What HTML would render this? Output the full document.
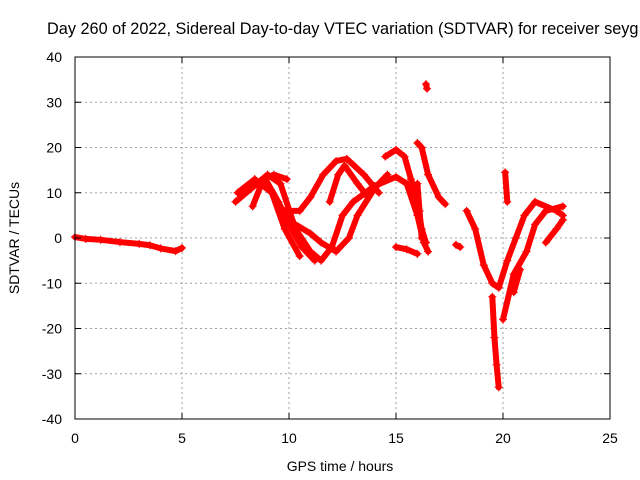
<!DOCTYPE html>
<html><head><meta charset="utf-8"><style>
body{margin:0;background:#fff;}
svg{display:block;font-family:"Liberation Sans",sans-serif;}
</style></head><body>
<svg id="chart" width="640" height="480">
<g id="grid"></g>
<g id="marks"></g>
<rect x="75" y="57" width="535" height="362" fill="none" stroke="#000" stroke-width="1"/>
<g id="ticks"></g>
<text x="47" y="34" font-size="16.3" text-anchor="start">Day 260 of 2022, Sidereal Day-to-day VTEC variation (SDTVAR) for receiver seyg</text>
<text x="340" y="471" font-size="14" text-anchor="middle">GPS time / hours</text>
<text x="0" y="0" font-size="14" text-anchor="middle" transform="translate(19,238) rotate(-90)">SDTVAR / TECUs</text>
</svg>
<script>
const xTicks=[0,5,10,15,20,25];
const yTicks=[-40,-30,-20,-10,0,10,20,30,40];
const tracks=[
[[0,0.2],[0.5,-0.2],[1.2,-0.4],[2.1,-0.9],[3,-1.3],[3.5,-1.6],[4,-2.3],[4.7,-2.9],[5.0,-2.2]],
[[7.5,8],[8.5,12],[9.0,14],[9.6,12],[10.3,2],[11.0,-3],[11.5,-5],[12,-2],[12.5,5],[13,8],[14,11.5],[15,13.5],[15.5,12],[16,5],[16.3,-1],[16.5,-3]],
[[7.6,10],[8.4,13],[9.2,10],[9.8,2],[10.5,-4]],
[[8.3,7],[8.8,13],[9.3,14],[9.9,13]],
[[8.9,13],[9.5,8],[10.0,3],[10.6,-2],[11.2,-5]],
[[9.8,6],[10.5,6],[11,9],[11.6,14],[12.2,17],[12.7,17.5],[13.5,14],[14.2,10]],
[[10.3,3],[11.0,1],[11.5,-1],[12.2,-3],[12.8,0],[13.2,5],[14,11],[14.6,14]],
[[11.9,8],[12.3,14],[12.6,16],[13.2,12],[13.7,9]],
[[14.5,18],[15,19.5],[15.4,18],[15.7,13],[16,8],[16.2,2],[16.4,-1]],
[[15.0,-2],[15.5,-2.5],[16,-3.5]],
[[16,21],[16.2,20],[16.5,14],[17,9],[17.3,7.5]],
[[16.0,12],[16.1,6],[16.2,0]],
[[16.4,34],[16.45,33]],
[[17.8,-1.5],[18,-2]],
[[18.3,6],[18.7,2],[19.1,-6],[19.5,-10],[19.8,-11],[20.2,-5],[20.6,0],[21,5],[21.5,8],[22.5,6],[22.8,5]],
[[19.5,-13],[19.6,-22],[19.7,-28],[19.8,-33]],
[[20.0,-18],[20.5,-8],[21.1,-3],[21.5,3],[22,6],[22.8,7]],
[[20.1,14.5],[20.2,8]],
[[20.5,-12],[20.8,-7]],
[[22,-1],[22.5,2],[22.8,4]]
];
const X=v=>75+v*535/25, Y=v=>238-v*362/80;
const NS="http://www.w3.org/2000/svg";
const grid=document.getElementById('grid'),ticks=document.getElementById('ticks'),marks=document.getElementById('marks');
function mk(tag,attrs,parent){const e=document.createElementNS(NS,tag);for(const k in attrs)e.setAttribute(k,attrs[k]);parent.appendChild(e);return e;}
xTicks.forEach(t=>{
 const x=X(t);
 if(t>0&&t<25){const g=mk('line',{x1:x,x2:x,y1:57,y2:419,stroke:'#a0a0a0','stroke-dasharray':'2,3'},grid);
 
 }
 mk('line',{x1:x,x2:x,y1:419,y2:413,stroke:'#000'},ticks);
 mk('line',{x1:x,x2:x,y1:57,y2:63,stroke:'#000'},ticks);
 const l=mk('text',{x:x,y:443,'font-size':14,'text-anchor':'middle'},ticks);l.textContent=t;
 
 
});
yTicks.forEach(t=>{
 const y=Y(t);
 if(t>-40&&t<40){const g=mk('line',{x1:75,x2:610,y1:y,y2:y,stroke:'#a0a0a0','stroke-dasharray':'2,3'},grid);
 
 }
 mk('line',{x1:75,x2:81,y1:y,y2:y,stroke:'#000'},ticks);
 mk('line',{x1:604,x2:610,y1:y,y2:y,stroke:'#000'},ticks);
 const l=mk('text',{x:62,y:y+5,'font-size':14,'text-anchor':'end'},ticks);l.textContent=t;
 
 
});
tracks.forEach(tr=>{
 const pl=mk('polyline',{points:tr.map(p=>X(p[0])+','+Y(p[1])).join(' '),fill:'none',stroke:'#f00','stroke-width':6,'stroke-linejoin':'round','stroke-linecap':'round'},marks);
 
 
 tr.forEach(p=>{
  const x=X(p[0]),y=Y(p[1]);
  const m=mk('path',{d:`M${x-4},${y}H${x+4}M${x},${y-4}V${y+4}`,stroke:'#f00','stroke-width':1.2},marks);
  
  
 });
});
</script>
</body></html>
